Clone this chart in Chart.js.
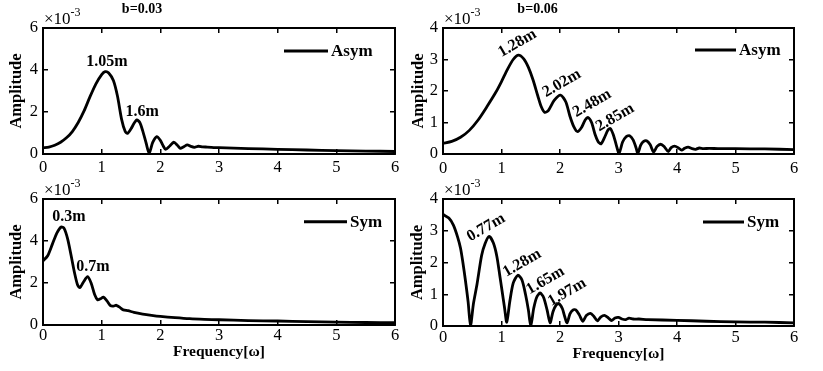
<!DOCTYPE html>
<html>
<head>
<meta charset="utf-8">
<script src="https://cdn.jsdelivr.net/npm/chart.js@4.4.0/dist/chart.umd.min.js"></script>
<style>
  html, body { margin: 0; padding: 0; background: #fff; }
  #wrap { position: relative; width: 823px; height: 371px; background: #fff; overflow: hidden; }
  canvas { position: absolute; }
</style>
</head>
<body>
<div id="wrap">
  <canvas id="c-tl" width="411" height="185" style="left:0;top:0"></canvas>
  <canvas id="c-tr" width="418" height="185" style="left:405px;top:0"></canvas>
  <canvas id="c-bl" width="411" height="206" style="left:0;top:165px"></canvas>
  <canvas id="c-br" width="418" height="206" style="left:405px;top:165px"></canvas>
</div>
<script>
// ticks (amplitudes are in units of 1e-3)
const xTicks = [0, 1, 2, 3, 4, 5, 6];
const yTicks6 = [0, 2, 4, 6];
const yTicks4 = [0, 1, 2, 3, 4];

// b=0.03, Asym
const tlOmega = [0, 0.1, 0.2, 0.3, 0.4, 0.5, 0.6, 0.7, 0.8, 0.9, 1.0, 1.06, 1.12, 1.2, 1.27, 1.34, 1.4, 1.44, 1.5, 1.55, 1.6, 1.65, 1.7, 1.76, 1.81, 1.87, 1.94, 2.0, 2.05, 2.09, 2.16, 2.23, 2.29, 2.34, 2.4, 2.46, 2.52, 2.58, 2.65, 2.72, 2.8, 3.0, 3.5, 4.0, 4.5, 5.0, 5.5, 6.0];
const tlAmp = [0.29, 0.33, 0.42, 0.56, 0.77, 1.07, 1.5, 2.05, 2.72, 3.33, 3.78, 3.92, 3.86, 3.5, 2.75, 1.65, 1.08, 0.98, 1.2, 1.45, 1.62, 1.5, 1.1, 0.5, 0.03, 0.55, 0.83, 0.65, 0.38, 0.22, 0.38, 0.56, 0.42, 0.27, 0.35, 0.43, 0.36, 0.32, 0.37, 0.34, 0.33, 0.3, 0.26, 0.22, 0.19, 0.16, 0.14, 0.12];

// b=0.06, Asym
const trOmega = [0, 0.15, 0.3, 0.45, 0.6, 0.75, 0.9, 1.0, 1.1, 1.2, 1.29, 1.38, 1.46, 1.54, 1.62, 1.68, 1.74, 1.8, 1.9, 2.01, 2.1, 2.17, 2.24, 2.3, 2.37, 2.43, 2.48, 2.54, 2.6, 2.65, 2.7, 2.76, 2.82, 2.86, 2.91, 2.96, 3.01, 3.07, 3.13, 3.19, 3.25, 3.3, 3.33, 3.38, 3.43, 3.48, 3.54, 3.6, 3.66, 3.72, 3.78, 3.85, 3.9, 3.96, 4.02, 4.08, 4.13, 4.19, 4.26, 4.32, 4.38, 4.45, 4.55, 4.7, 5.0, 5.5, 6.0];
const trAmp = [0.34, 0.4, 0.53, 0.75, 1.08, 1.5, 1.95, 2.3, 2.68, 3.0, 3.14, 3.02, 2.75, 2.35, 1.85, 1.5, 1.32, 1.38, 1.7, 1.87, 1.65, 1.2, 0.85, 0.71, 0.85, 1.08, 1.16, 1.0, 0.62, 0.4, 0.32, 0.52, 0.76, 0.81, 0.62, 0.3, 0.02, 0.38, 0.55, 0.58, 0.45, 0.2, 0.02, 0.28, 0.4, 0.42, 0.3, 0.06, 0.24, 0.31, 0.24, 0.08, 0.2, 0.25, 0.2, 0.12, 0.18, 0.22, 0.17, 0.15, 0.19, 0.17, 0.18, 0.17, 0.17, 0.16, 0.14];

// b=0.03, Sym
const blOmega = [0, 0.08, 0.16, 0.24, 0.31, 0.36, 0.42, 0.48, 0.54, 0.59, 0.63, 0.69, 0.76, 0.82, 0.88, 0.93, 0.98, 1.03, 1.09, 1.15, 1.2, 1.25, 1.31, 1.37, 1.45, 1.55, 1.7, 1.85, 2.0, 2.25, 2.5, 2.75, 3.0, 3.5, 4.0, 4.5, 5.0, 5.5, 6.0];
const blAmp = [3.05, 3.3, 3.85, 4.4, 4.67, 4.6, 4.1, 3.3, 2.45, 1.9, 1.78, 2.05, 2.3, 2.0, 1.45, 1.2, 1.25, 1.33, 1.15, 0.92, 0.9, 0.94, 0.84, 0.72, 0.68, 0.6, 0.52, 0.46, 0.41, 0.35, 0.3, 0.27, 0.25, 0.21, 0.19, 0.16, 0.14, 0.12, 0.11];

// b=0.06, Sym
const brOmega = [0, 0.1, 0.18, 0.25, 0.3, 0.34, 0.38, 0.43, 0.47, 0.52, 0.58, 0.66, 0.72, 0.79, 0.86, 0.92, 0.97, 1.01, 1.05, 1.09, 1.14, 1.2, 1.28, 1.35, 1.41, 1.46, 1.5, 1.55, 1.6, 1.66, 1.72, 1.78, 1.83, 1.88, 1.93, 1.98, 2.04, 2.08, 2.12, 2.17, 2.22, 2.27, 2.33, 2.39, 2.45, 2.52, 2.58, 2.64, 2.7, 2.77, 2.83, 2.88, 2.94, 3.0, 3.06, 3.12, 3.18, 3.25, 3.35, 3.5, 4.0, 4.5, 5.0, 5.5, 6.0];
const brAmp = [3.51, 3.4, 3.17, 2.8, 2.45, 2.0, 1.48, 0.75, 0.0, 0.7, 1.3, 2.22, 2.6, 2.82, 2.62, 2.2, 1.6, 1.1, 0.6, 0.12, 0.75, 1.35, 1.6, 1.45, 1.0, 0.5, 0.0, 0.55, 0.9, 1.04, 0.9, 0.5, 0.1, 0.45, 0.65, 0.71, 0.55, 0.3, 0.1, 0.38, 0.5, 0.51, 0.35, 0.15, 0.33, 0.4, 0.3, 0.16, 0.29, 0.33, 0.25, 0.17, 0.25, 0.27, 0.22, 0.2, 0.25, 0.22, 0.22, 0.2, 0.18, 0.15, 0.13, 0.12, 0.1];

const SERIF = '"Liberation Serif", "Times New Roman", serif';
Chart.defaults.font.family = SERIF;
Chart.defaults.color = '#000';

// legend, peak labels, exponent and panel title drawn over each chart
function decorPlugin(d) {
  return {
    id: 'decor',
    afterDraw(chart) {
      const { ctx, chartArea: a, scales: { x, y } } = chart;
      ctx.save();
      ctx.fillStyle = '#000';
      ctx.strokeStyle = '#000';

      // x10^-3
      ctx.textAlign = 'left';
      ctx.textBaseline = 'alphabetic';
      ctx.font = '17px ' + SERIF;
      ctx.fillText('\u00d710', a.left + 1, a.top - 4);
      const w = ctx.measureText('\u00d710').width;
      ctx.font = '12px ' + SERIF;
      ctx.fillText('-3', a.left + 1 + w, a.top - 12);

      if (d.title) {
        ctx.font = 'bold 14px ' + SERIF;
        ctx.textAlign = 'center';
        ctx.textBaseline = 'middle';
        ctx.fillText(d.title, a.left + d.titleDx, 9.5);
      }

      // legend
      const ly = a.top + d.legDy;
      ctx.lineWidth = 3;
      ctx.beginPath();
      ctx.moveTo(a.right - d.legX0, ly);
      ctx.lineTo(a.right - d.legX1, ly);
      ctx.stroke();
      ctx.font = 'bold 17px ' + SERIF;
      ctx.textAlign = 'left';
      ctx.textBaseline = 'middle';
      ctx.fillText(chart.data.datasets[0].label, a.right - d.legX1 + 3, ly + 1);

      // peak labels
      ctx.font = 'bold 16px ' + SERIF;
      ctx.textAlign = 'center';
      d.notes.forEach(n => {
        ctx.save();
        ctx.translate(x.getPixelForValue(n.x), y.getPixelForValue(n.y));
        ctx.rotate(n.r * Math.PI / 180);
        ctx.fillText(n.t, 0, 0);
        ctx.restore();
      });
      ctx.restore();
    }
  };
}

function makePanel(id, omega, amp, yTicks, p, d) {
  const tickGrid = { drawOnChartArea: false, tickLength: -5, color: '#000', lineWidth: 1.5 };
  const border = { color: '#000', width: 2 };
  const setX = s => { s.ticks = xTicks.map(v => ({ value: v })); };
  const setY = s => { s.ticks = yTicks.map(v => ({ value: v })); };
  const yMax = yTicks[yTicks.length - 1];

  new Chart(document.getElementById(id), {
    type: 'line',
    data: {
      datasets: [{
        label: p.label,
        data: omega.map((w, i) => ({ x: w, y: amp[i] })),
        borderColor: '#000',
        borderWidth: 2.8,
        pointRadius: 0,
        tension: 0.25,
        fill: false
      }]
    },
    options: {
      responsive: false,
      animation: false,
      events: [],
      layout: { padding: { top: p.top, right: p.right, left: 0, bottom: 0 } },
      plugins: { legend: { display: false }, tooltip: { enabled: false } },
      scales: {
        x: {
          type: 'linear', position: 'bottom', min: 0, max: 6,
          afterBuildTicks: setX,
          afterFit: s => { s.height = p.xh; },
          ticks: { color: '#000', font: { size: 16.5 }, padding: p.xpad, maxRotation: 0 },
          grid: tickGrid,
          border: border,
          title: {
            display: p.xTitle, text: 'Frequency[\u03c9]', color: '#000',
            font: { size: 15.5, weight: 'bold' }, padding: { top: 0, bottom: p.xtp }
          }
        },
        x2: {
          type: 'linear', position: 'top', min: 0, max: 6,
          afterBuildTicks: setX,
          afterFit: s => { s.height = 0; },
          ticks: { display: false },
          grid: tickGrid,
          border: border
        },
        y: {
          type: 'linear', position: 'left', min: 0, max: yMax,
          afterBuildTicks: setY,
          afterFit: s => { s.width = p.yw; },
          ticks: { color: '#000', font: { size: 16.5 }, padding: 10 },
          grid: tickGrid,
          border: border,
          title: {
            display: true, text: 'Amplitude', color: '#000',
            font: { size: 16.5, weight: 'bold' }, padding: { top: p.ytp, bottom: 0 }
          }
        },
        y2: {
          type: 'linear', position: 'right', min: 0, max: yMax,
          afterBuildTicks: setY,
          afterFit: s => { s.width = 0; },
          ticks: { display: false },
          grid: tickGrid,
          border: border
        }
      }
    },
    plugins: [decorPlugin(d)]
  });
}

makePanel('c-tl', tlOmega, tlAmp, yTicks6,
  { label: 'Asym', top: 28, right: 16, xh: 31, yw: 43, xpad: 9.2, xTitle: false, xtp: 0, ytp: 7 },
  { title: 'b=0.03', titleDx: 99, legX0: 111, legX1: 67, legDy: 23,
    notes: [{ t: '1.05m', x: 1.09, y: 4.38, r: 0 }, { t: '1.6m', x: 1.69, y: 2.0, r: 0 }] });

makePanel('c-tr', trOmega, trAmp, yTicks4,
  { label: 'Asym', top: 28, right: 29, xh: 31, yw: 38, xpad: 10.2, xTitle: false, xtp: 0, ytp: 3.5 },
  { title: 'b=0.06', titleDx: 94.5, legX0: 99, legX1: 58, legDy: 22,
    notes: [{ t: '1.28m', x: 1.27, y: 3.51, r: -30 }, { t: '2.02m', x: 2.03, y: 2.24, r: -30 },
            { t: '2.48m', x: 2.55, y: 1.61, r: -30 }, { t: '2.85m', x: 2.94, y: 1.16, r: -30 }] });

makePanel('c-bl', blOmega, blAmp, yTicks6,
  { label: 'Sym', top: 34, right: 16, xh: 46, yw: 43, xpad: 5.6, xTitle: true, xtp: 9.8, ytp: 6.7 },
  { title: '', legX0: 91, legX1: 48, legDy: 22.7,
    notes: [{ t: '0.3m', x: 0.44, y: 5.16, r: 0 }, { t: '0.7m', x: 0.85, y: 2.78, r: 0 }] });

makePanel('c-br', brOmega, brAmp, yTicks4,
  { label: 'Sym', top: 34, right: 29, xh: 45, yw: 38, xpad: 7.2, xTitle: true, xtp: 7.5, ytp: 2.7 },
  { title: '', legX0: 91, legX1: 50, legDy: 23,
    notes: [{ t: '0.77m', x: 0.735, y: 3.1, r: -30 }, { t: '1.28m', x: 1.35, y: 1.98, r: -30 },
            { t: '1.65m', x: 1.75, y: 1.43, r: -30 }, { t: '1.97m', x: 2.12, y: 1.06, r: -30 }] });
</script>
</body>
</html>
